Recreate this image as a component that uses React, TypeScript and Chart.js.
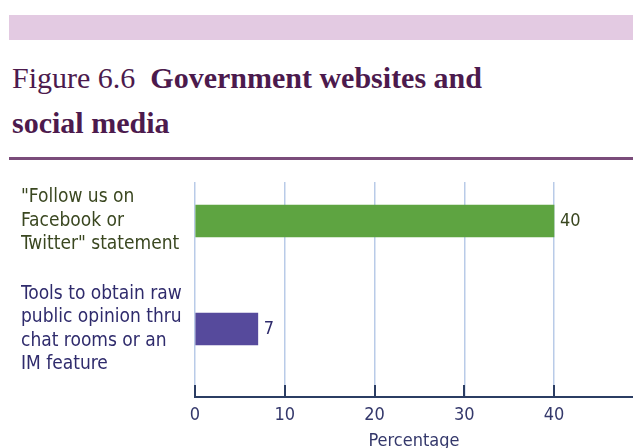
import React, { useEffect, useRef } from "react";
import { Chart, registerables } from "chart.js";

Chart.register(...registerables);

const categories: string[][] = [
  ['"Follow us on', "Facebook or", 'Twitter" statement'],
  ["Tools to obtain raw", "public opinion thru", "chat rooms or an", "IM feature"],
];
const values: number[] = [40, 7];
const barColors: string[] = ["#5ea441", "#564a9c"];
const labelColors: string[] = ["#3a4720", "#2f2b6c"];
const xTicks: number[] = [0, 10, 20, 30, 40];
const xTitle = "Percentage";
const titleLight = "Figure 6.6";
const titleBold1 = "Government websites and";
const titleBold2 = "social media";

const NARROW = "'Liberation Sans Narrow', 'DejaVu Sans Condensed', sans-serif";

const valueLabels = {
  id: "valueLabels",
  afterDatasetsDraw(chart: any) {
    const ctx = chart.ctx;
    const meta = chart.getDatasetMeta(0);
    ctx.save();
    ctx.font = `18px ${NARROW}`;
    ctx.textBaseline = "middle";
    ctx.textAlign = "left";
    meta.data.forEach((el: any, i: number) => {
      ctx.fillStyle = labelColors[i];
      ctx.fillText(String(values[i]), el.x + 6, el.y);
    });
    ctx.restore();
  },
};

const upTicks = {
  id: "upTicks",
  afterDraw(chart: any) {
    const ctx = chart.ctx;
    const xs = chart.scales.x;
    const bottom = chart.chartArea.bottom;
    ctx.save();
    ctx.strokeStyle = "#2b3d63";
    ctx.lineWidth = 2;
    xTicks.forEach((v) => {
      const px = Math.round(xs.getPixelForValue(v));
      ctx.beginPath();
      ctx.moveTo(px, bottom - 12);
      ctx.lineTo(px, bottom);
      ctx.stroke();
    });
    ctx.restore();
  },
};

function BarChart() {
  const ref = useRef<HTMLCanvasElement | null>(null);
  useEffect(() => {
    if (!ref.current) return;
    const chart = new Chart(ref.current, {
      type: "bar",
      data: {
        datasets: [
          {
            data: values.map((v, i) => ({ x: v, y: i })),
            backgroundColor: barColors,
            borderWidth: 0,
            barThickness: 32,
          },
        ],
      },
      options: {
        indexAxis: "y",
        animation: false,
        responsive: false,
        maintainAspectRatio: false,
        layout: { padding: { left: 21, right: 0, top: 17, bottom: 0 } },
        plugins: { legend: { display: false }, tooltip: { enabled: false } },
        scales: {
          x: {
            type: "linear",
            min: 0,
            max: 48.8,
            afterBuildTicks: (s: any) => {
              s.ticks = xTicks.map((v) => ({ value: v }));
            },
            afterFit: (s: any) => {
              s.height = 58;
            },
            grid: { color: "#b9cbe8", lineWidth: 1.5, drawTicks: false },
            border: { color: "#2b3d63", width: 2 },
            ticks: {
              padding: 8,
              color: "#34386b",
              font: { family: NARROW, size: 18 },
            },
            title: {
              display: true,
              text: xTitle,
              color: "#34386b",
              font: { family: NARROW, size: 18 },
              padding: { top: 3, bottom: 3 },
            },
          },
          y: {
            type: "linear",
            reverse: true,
            offset: false,
            min: -0.361,
            max: 1.63,
            afterBuildTicks: (s: any) => {
              s.ticks = categories.map((_, i) => ({ value: i }));
            },
            afterFit: (s: any) => {
              s.width = 174;
              s.paddingTop = 0;
              s.paddingBottom = 0;
            },
            grid: { display: false, drawTicks: false, offset: false },
            border: { display: false },
            ticks: {
              autoSkip: false,
              crossAlign: "far",
              padding: 0,
              callback: (v: any) => categories[Number(v)] ?? "",
              color: (c: any) => labelColors[c.index] ?? "#333",
              font: { family: NARROW, size: 19, lineHeight: 1.24 },
            },
          },
        },
      } as any,
      plugins: [valueLabels, upTicks],
    });
    return () => chart.destroy();
  }, []);
  return (
    <canvas
      ref={ref}
      width={633}
      height={290}
      style={{ position: "absolute", left: 0, top: 165, width: 633, height: 290 }}
    />
  );
}

export default function App() {
  return (
    <div
      style={{
        position: "absolute",
        left: 0,
        top: 0,
        width: 633,
        height: 448,
        overflow: "hidden",
        background: "#ffffff",
      }}
    >
      <div
        style={{
          position: "absolute",
          left: 9,
          top: 15,
          width: 624,
          height: 25,
          background: "#e3cae2",
        }}
      />
      <div
        style={{
          position: "absolute",
          left: 12,
          top: 55,
          width: 620,
          fontFamily: "'Liberation Serif', 'DejaVu Serif', serif",
          fontSize: 30,
          lineHeight: "45px",
          color: "#4c1a4d",
        }}
      >
        <span>{titleLight}</span>
        <span style={{ fontWeight: "bold" }}>{"\u00a0\u00a0" + titleBold1}</span>
        <br />
        <span style={{ fontWeight: "bold" }}>{titleBold2}</span>
      </div>
      <div
        style={{
          position: "absolute",
          left: 9,
          top: 157,
          width: 624,
          height: 3,
          background: "#7a4c7a",
        }}
      />
      <BarChart />
    </div>
  );
}
